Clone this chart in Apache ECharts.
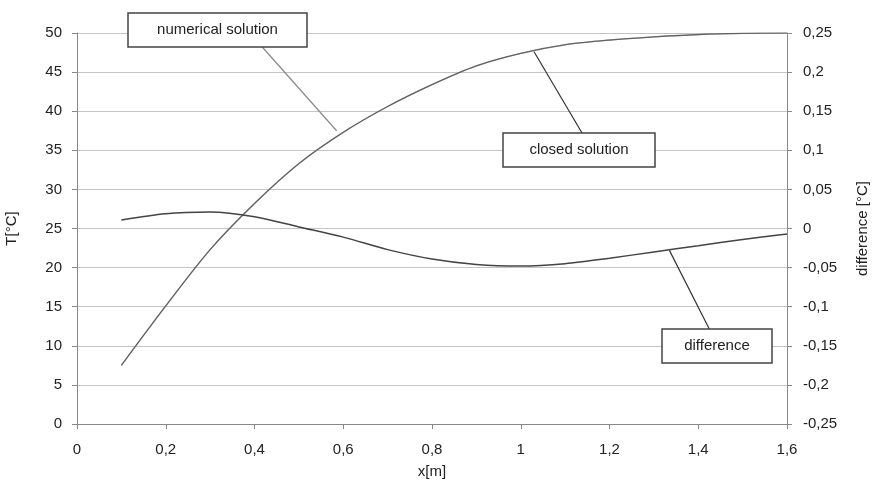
<!DOCTYPE html>
<html>
<head>
<meta charset="utf-8">
<script src="https://cdn.jsdelivr.net/npm/echarts@6/dist/echarts.min.js"></script>
<style>
  html, body { margin: 0; padding: 0; background: #fff; }
  #chart { width: 876px; height: 486px; }
</style>
</head>
<body>
<div id="chart"></div>
<script>
// x positions [m]
var xValues = [0.1, 0.2, 0.3, 0.4, 0.5, 0.6, 0.7, 0.8, 0.9, 1.0, 1.1, 1.2, 1.3, 1.4, 1.5, 1.6];
// temperatures [°C]
var numericalT = [7.5, 15.1, 22.3, 28.2, 33.3, 37.3, 40.6, 43.4, 45.8, 47.4, 48.5, 49.1, 49.5, 49.8, 49.95, 50.0];
var closedT = [7.5, 15.1, 22.3, 28.2, 33.3, 37.3, 40.6, 43.4, 45.8, 47.4, 48.5, 49.1, 49.5, 49.8, 49.95, 50.0];
// difference [°C]
var difference = [0.011, 0.019, 0.021, 0.015, 0.002, -0.011, -0.027, -0.039, -0.046, -0.048, -0.045, -0.038, -0.030, -0.022, -0.014, -0.007];

function pairs(ys) {
  return xValues.map(function (x, i) { return [x, ys[i]]; });
}
// 小数点用逗号
function comma(v) {
  return String(+v.toFixed(3)).replace('.', ',');
}

var txt = '#222';
var font = 'Liberation Sans, Arial, sans-serif';

var chart = echarts.init(document.getElementById('chart'));
var option = {
  animation: false,
  grid: { left: 77, right: 89, top: 33, bottom: 62, outerBoundsMode: 'none', containLabel: false },
  xAxis: {
    type: 'value', min: 0, max: 1.6, interval: 0.2,
    name: 'x[m]', nameLocation: 'middle', nameGap: 40,
    nameTextStyle: { color: txt, fontSize: 15, fontFamily: font },
    axisLine: { lineStyle: { color: '#888', width: 1 } },
    axisTick: { show: true, length: 5, lineStyle: { color: '#888' } },
    axisLabel: { color: txt, fontSize: 15, fontFamily: font, margin: 18, formatter: comma },
    splitLine: { show: false }
  },
  yAxis: [
    {
      type: 'value', min: 0, max: 50, interval: 5,
      name: 'T[°C]', nameLocation: 'middle', nameGap: 58, nameRotate: 90,
      nameTextStyle: { color: txt, fontSize: 15, fontFamily: font },
      axisLine: { show: true, lineStyle: { color: '#888' } },
      axisTick: { show: true, length: 5, lineStyle: { color: '#888' } },
      axisLabel: { color: txt, fontSize: 15, fontFamily: font, margin: 15 },
      splitLine: { lineStyle: { color: '#c4c4c4', width: 1 } }
    },
    {
      type: 'value', min: -0.25, max: 0.25, interval: 0.05, position: 'right',
      name: 'difference [°C]', nameLocation: 'middle', nameGap: 68, nameRotate: 90,
      nameTextStyle: { color: txt, fontSize: 15, fontFamily: font },
      axisLine: { show: true, lineStyle: { color: '#888' } },
      axisTick: { show: true, length: 5, lineStyle: { color: '#888' } },
      axisLabel: { color: txt, fontSize: 15, fontFamily: font, margin: 16, formatter: comma },
      splitLine: { show: false }
    }
  ],
  series: [
    {
      name: 'numerical solution', type: 'line', yAxisIndex: 0, smooth: 0.3,
      showSymbol: false, data: pairs(numericalT), z: 2,
      lineStyle: { color: '#999', width: 1.4 }
    },
    {
      name: 'closed solution', type: 'line', yAxisIndex: 0, smooth: 0.3,
      showSymbol: false, data: pairs(closedT), z: 3,
      lineStyle: { color: '#333', width: 1.2, opacity: 0.55 }
    },
    {
      name: 'difference', type: 'line', yAxisIndex: 1, smooth: 0.3,
      showSymbol: false, data: pairs(difference), z: 3,
      lineStyle: { color: '#444', width: 1.5 }
    }
  ]
};
chart.setOption(option);

// 标注框: anchor point in data coords, box [x, y, w, h] in pixels, leader start on box
var notes = [
  { text: 'numerical solution', axis: 0, at: [0.585, 37.5], box: [128, 13, 179, 34], from: [0.75, 1], color: '#888' },
  { text: 'closed solution', axis: 0, at: [1.03, 47.6], box: [503, 133, 152, 34], from: [0.52, 0], color: '#333' },
  { text: 'difference', axis: 1, at: [1.335, -0.028], box: [662, 329, 110, 34], from: [0.43, 0], color: '#333' }
];
var elements = [];
notes.forEach(function (n) {
  var p = chart.convertToPixel({ xAxisIndex: 0, yAxisIndex: n.axis }, n.at);
  var b = n.box;
  elements.push({
    type: 'line', z: 10,
    shape: { x1: b[0] + b[2] * n.from[0], y1: b[1] + b[3] * n.from[1], x2: p[0], y2: p[1] },
    style: { stroke: n.color, lineWidth: 1.2 }
  });
  elements.push({
    type: 'rect', z: 11,
    shape: { x: b[0], y: b[1], width: b[2], height: b[3] },
    style: { fill: '#fff', stroke: '#444', lineWidth: 1.5 }
  });
  elements.push({
    type: 'text', z: 12,
    x: b[0] + b[2] / 2, y: b[1] + b[3] / 2,
    style: { text: n.text, fill: txt, font: '15px ' + font, align: 'center', verticalAlign: 'middle' }
  });
});
chart.setOption({ graphic: elements });
</script>
</body>
</html>
